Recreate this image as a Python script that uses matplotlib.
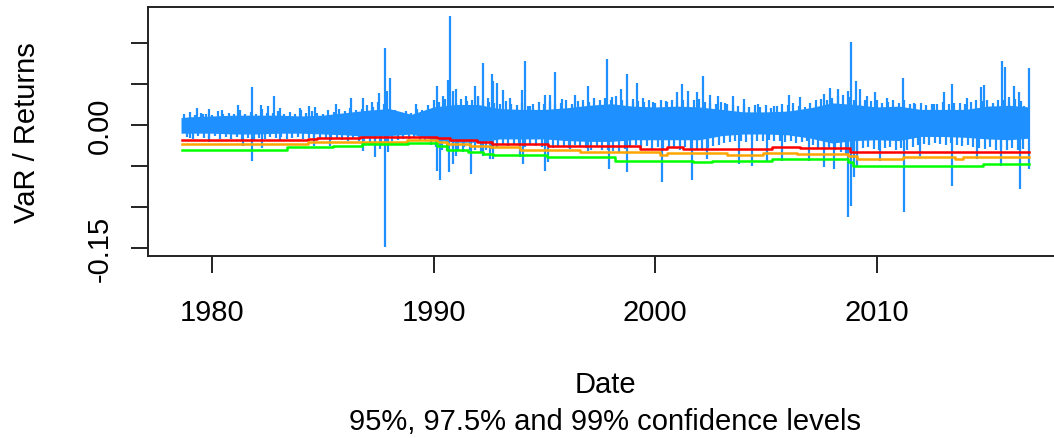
import matplotlib
matplotlib.use('Agg')
import matplotlib.pyplot as plt
import numpy as np

plt.rcParams['font.family'] = ['Liberation Sans', 'DejaVu Sans']

# ---- data ----
# dense core band of daily returns (solid blue area)
core_years = [1978.6, 1979, 1980, 1981, 1982, 1983, 1984, 1985, 1986, 1987,
              1988, 1989, 1990, 1991, 1992, 1993, 1994, 1995, 1996, 1997,
              1998, 1999, 2000, 2001, 2002, 2003, 2004, 2005, 2006, 2007,
              2008, 2009, 2010, 2011, 2012, 2013, 2014, 2015, 2016, 2016.9]
core_hi = [0.009, 0.010, 0.011, 0.012, 0.012, 0.012, 0.011, 0.012, 0.015, 0.018,
           0.020, 0.013, 0.022, 0.025, 0.025, 0.020, 0.019, 0.019, 0.021, 0.024,
           0.026, 0.023, 0.022, 0.023, 0.022, 0.019, 0.016, 0.016, 0.017, 0.021,
           0.027, 0.025, 0.022, 0.023, 0.019, 0.019, 0.019, 0.023, 0.024, 0.022]
core_lo = [-0.010, -0.010, -0.010, -0.011, -0.011, -0.010, -0.010, -0.011, -0.012, -0.014,
           -0.013, -0.011, -0.018, -0.021, -0.021, -0.017, -0.017, -0.017, -0.019, -0.020,
           -0.020, -0.018, -0.018, -0.018, -0.018, -0.013, -0.011, -0.011, -0.012, -0.016,
           -0.022, -0.019, -0.018, -0.019, -0.014, -0.014, -0.015, -0.017, -0.018, -0.016]

# ragged fringe of the band: quarterly highest / lowest returns (from 1978.75)
fringe_start = 1978.75
fringe_hi = [0.013, 0.016, 0.012, 0.015, 0.014, 0.012, 0.017, 0.013,
             0.015, 0.013, 0.018, 0.014, 0.016, 0.014, 0.019, 0.015,
             0.015, 0.017, 0.013, 0.016, 0.014, 0.018, 0.015, 0.017,
             0.015, 0.013, 0.018, 0.016, 0.019, 0.017, 0.021, 0.018,
             0.020, 0.024, 0.022, 0.028, 0.025, 0.020, 0.018, 0.016,
             0.017, 0.015, 0.019, 0.018, 0.024, 0.030, 0.028, 0.032,
             0.030, 0.027, 0.032, 0.029, 0.031, 0.034, 0.030, 0.028,
             0.027, 0.025, 0.029, 0.026, 0.024, 0.027, 0.023, 0.025,
             0.028, 0.025, 0.029, 0.026, 0.027, 0.030, 0.026, 0.029,
             0.031, 0.028, 0.033, 0.030, 0.033, 0.030, 0.035, 0.031,
             0.030, 0.027, 0.029, 0.028, 0.030, 0.027, 0.031, 0.029,
             0.031, 0.028, 0.030, 0.029, 0.030, 0.032, 0.028, 0.027,
             0.026, 0.028, 0.025, 0.024, 0.023, 0.025, 0.022, 0.024,
             0.022, 0.024, 0.021, 0.023, 0.026, 0.024, 0.027, 0.023,
             0.022, 0.027, 0.030, 0.032, 0.030, 0.033, 0.035, 0.036,
             0.034, 0.031, 0.029, 0.030, 0.029, 0.031, 0.027, 0.028,
             0.030, 0.027, 0.031, 0.026, 0.025, 0.027, 0.024, 0.026,
             0.026, 0.028, 0.025, 0.027, 0.027, 0.025, 0.028, 0.030,
             0.029, 0.031, 0.027, 0.030, 0.031, 0.028, 0.032, 0.029]
fringe_lo = [-0.015, -0.017, -0.014, -0.016, -0.016, -0.014, -0.017, -0.015,
             -0.017, -0.015, -0.018, -0.016, -0.018, -0.016, -0.017, -0.015,
             -0.016, -0.015, -0.017, -0.016, -0.015, -0.017, -0.016, -0.018,
             -0.017, -0.016, -0.018, -0.017, -0.018, -0.020, -0.017, -0.019,
             -0.019, -0.021, -0.023, -0.026, -0.024, -0.020, -0.018, -0.017,
             -0.017, -0.016, -0.018, -0.020, -0.024, -0.027, -0.030, -0.032,
             -0.029, -0.031, -0.027, -0.030, -0.030, -0.033, -0.031, -0.029,
             -0.027, -0.025, -0.026, -0.024, -0.025, -0.027, -0.024, -0.026,
             -0.027, -0.025, -0.028, -0.026, -0.026, -0.028, -0.025, -0.027,
             -0.028, -0.030, -0.027, -0.031, -0.030, -0.032, -0.033, -0.029,
             -0.027, -0.025, -0.028, -0.026, -0.029, -0.027, -0.030, -0.028,
             -0.028, -0.030, -0.027, -0.029, -0.029, -0.031, -0.028, -0.026,
             -0.024, -0.022, -0.021, -0.020, -0.019, -0.021, -0.018, -0.020,
             -0.019, -0.018, -0.020, -0.019, -0.021, -0.020, -0.022, -0.021,
             -0.020, -0.025, -0.028, -0.030, -0.029, -0.031, -0.033, -0.035,
             -0.032, -0.030, -0.028, -0.027, -0.029, -0.031, -0.028, -0.027,
             -0.030, -0.028, -0.031, -0.027, -0.025, -0.023, -0.024, -0.022,
             -0.023, -0.024, -0.022, -0.025, -0.026, -0.024, -0.027, -0.028,
             -0.029, -0.027, -0.030, -0.028, -0.030, -0.028, -0.031, -0.029]

# individual large daily returns (spikes)
up_years = [1979.34, 1979.60, 1979.86, 1980.44, 1981.19, 1981.79, 1982.20, 1982.54, 1982.82, 1983.07,
            1983.97, 1984.39, 1984.65, 1985.58, 1986.26, 1986.83, 1987.21, 1987.54, 1987.80, 1988.04,
            1987.89, 1989.21, 1990.15, 1990.42, 1990.65, 1990.75, 1990.87, 1991.02, 1991.47, 1991.88,
            1992.03, 1992.25, 1992.48, 1992.63, 1992.70, 1992.85, 1993.15, 1993.45, 1993.98, 1994.13,
            1994.35, 1995.03, 1995.26, 1995.48, 1995.78, 1996.39, 1996.99, 1997.37,
            1997.85, 1998.04, 1998.45, 1998.75, 1998.99, 1999.17, 1999.47, 1999.93, 2000.53, 2000.98,
            2001.21, 2001.51, 2001.89, 2002.16, 2002.49, 2002.86, 2003.17, 2003.51, 2004.00, 2004.67,
            2005.35, 2006.03, 2006.56, 2007.16, 2007.62, 2007.92, 2008.25, 2008.70, 2008.85, 2009.09,
            2009.24, 2009.57, 2009.95, 2010.48, 2011.20, 2011.68, 2012.59, 2013.04, 2013.42, 2014.09,
            2014.70, 2014.85, 2015.38, 2015.68, 2015.78, 2015.98, 2016.21, 2016.43, 2016.66, 2016.88]
up_vals = [0.0207, 0.0134, 0.0190, 0.0187, 0.0248, 0.0460, 0.0248, 0.0228, 0.0350, 0.0211,
           0.0203, 0.0230, 0.0220, 0.0256, 0.0325, 0.0330, 0.0276, 0.0390, 0.0935, 0.0573,
           0.0415, 0.0256, 0.0480, 0.0350, 0.0553, 0.1325, 0.0415, 0.0440, 0.0358, 0.0480,
           0.0358, 0.0756, 0.0325, 0.0622, 0.0540, 0.0516, 0.0423, 0.0325, 0.0427, 0.0777,
           0.0228, 0.0366, 0.0366, 0.0642, 0.0317, 0.0366, 0.0480, 0.0232,
           0.0805, 0.0337, 0.0439, 0.0622, 0.0317, 0.0516, 0.0325, 0.0276, 0.0276, 0.0398,
           0.0500, 0.0419, 0.0407, 0.0602, 0.0366, 0.0350, 0.0268, 0.0350, 0.0317, 0.0256,
           0.0236, 0.0366, 0.0337, 0.0195, 0.0378, 0.0447, 0.0439, 0.0419, 0.1008, 0.0540,
           0.0439, 0.0350, 0.0398, 0.0325, 0.0573, 0.0268, 0.0256, 0.0407, 0.0500, 0.0325,
           0.0459, 0.0488, 0.0195, 0.0777, 0.0703, 0.0337, 0.0472, 0.0407, 0.0236, 0.0691]

down_years = [1979.00, 1979.88, 1981.38, 1981.79, 1982.24, 1983.07, 1984.60, 1985.33, 1986.80, 1987.36,
              1987.59, 1987.80, 1987.93, 1990.15, 1990.27, 1990.68, 1990.90, 1991.02, 1991.35, 1991.70,
              1992.25, 1992.55, 1992.70, 1993.90, 1994.05, 1995.03, 1995.18, 1996.16, 1996.99,
              1997.90, 1998.75, 2000.30, 2001.66, 2002.34, 2003.77, 2004.37, 2005.05, 2005.73, 2006.93,
              2007.64, 2008.06, 2008.73, 2008.85, 2008.97, 2009.12, 2010.17, 2011.23, 2011.98, 2013.42,
              2014.55, 2015.60, 2016.47, 2016.88]
down_vals = [-0.0163, -0.0211, -0.0252, -0.0443, -0.0285, -0.0195, -0.0252, -0.0260, -0.0313, -0.0394,
             -0.0290, -0.1492, -0.0334, -0.0557, -0.0667, -0.0577, -0.0475, -0.0374, -0.0334, -0.0598,
             -0.0374, -0.0415, -0.0415, -0.0394, -0.0475, -0.0557, -0.0455, -0.0290, -0.0313,
             -0.0537, -0.0577, -0.0699, -0.0667, -0.0415, -0.0475, -0.0496, -0.0435, -0.0435, -0.0435,
             -0.0516, -0.0537, -0.1126, -0.0984, -0.0639, -0.0516, -0.0435, -0.1057, -0.0374, -0.0740,
             -0.0415, -0.0496, -0.0780, -0.0537]

# VaR step series
var95_years = [1978.63, 1984.35, 1984.73, 1986.68, 1990.14, 1990.74, 1991.95, 1992.63, 1995.18,
               1999.32, 2000.53, 2001.28, 2005.27, 2006.55, 2008.80, 2016.88]
var95_vals = [-0.0183, -0.0170, -0.0155, -0.0142, -0.0163, -0.0183, -0.0211, -0.0232, -0.0255,
              -0.0290, -0.0272, -0.0290, -0.0272, -0.0285, -0.0325, -0.0325]

var975_years = [1978.63, 1984.35, 1986.68, 1988.79, 1990.14, 1990.59, 1991.65, 1992.55, 1993.90,
                1996.61, 2000.22, 2000.53, 2003.24, 2004.89, 2006.40, 2008.73, 2009.10, 2011.21,
                2013.54, 2013.92, 2016.88]
var975_vals = [-0.0232, -0.0211, -0.0203, -0.0179, -0.0211, -0.0232, -0.0260, -0.0272, -0.0300,
               -0.0325, -0.0366, -0.0345, -0.0366, -0.0337, -0.0354, -0.0374, -0.0415, -0.0386,
               -0.0415, -0.0386, -0.0386]

var99_years = [1978.63, 1983.37, 1985.48, 1986.76, 1988.86, 1990.14, 1990.59, 1991.57, 1992.25,
               1992.70, 1995.11, 1998.19, 2001.73, 2002.56, 2005.27, 2008.73, 2008.95, 2014.82, 2016.88]
var99_vals = [-0.0300, -0.0272, -0.0252, -0.0232, -0.0224, -0.0252, -0.0300, -0.0334, -0.0354,
              -0.0366, -0.0394, -0.0435, -0.0455, -0.0435, -0.0415, -0.0455, -0.0504, -0.0476, -0.0476]

x_ticks = [1980, 1990, 2000, 2010]
y_ticks = [-0.15, -0.10, -0.05, 0.00, 0.05, 0.10]
y_ticklabels = ['-0.15', '', '', '0.00', '', '']

# ---- drawing ----
W, H = 1054, 439
fig = plt.figure(figsize=(W / 100, H / 100), dpi=100)
ax = fig.add_axes([148 / W, 1 - 257.3 / H, (1062.6 - 148) / W, (257.3 - 8.3) / H])

blue = '#1E90FF'
fringe_years = fringe_start + 0.25 * np.arange(len(fringe_hi))
ax.fill_between(core_years, core_lo, core_hi, color=blue, lw=0)
ax.vlines(fringe_years, 0, fringe_hi, color=blue, lw=1.6)
ax.vlines(fringe_years + 0.125, fringe_lo, 0, color=blue, lw=1.6)
ax.vlines(up_years, 0, up_vals, color=blue, lw=1.6)
ax.vlines(down_years, 0, down_vals, color=blue, lw=1.6)

ax.step(var95_years, var95_vals, where='post', color='#FF0000', lw=1.8)
ax.step(var975_years, var975_vals, where='post', color='#FFA500', lw=1.8)
ax.step(var99_years, var99_vals, where='post', color='#00FF00', lw=1.8)

ax.set_xlim(1977.11, 2018.40)
ax.set_ylim(-0.1601, 0.1435)

ax.set_xticks(x_ticks)
ax.set_xticklabels([str(t) for t in x_ticks])
ax.set_yticks(y_ticks)
ax.set_yticklabels(y_ticklabels, rotation=90)

for s in ax.spines.values():
    s.set_linewidth(1.4)
    s.set_color('#222222')

ax.tick_params(axis='both', direction='out', length=12, width=1.4, color='#222222',
               labelsize=21)
ax.tick_params(axis='x', pad=33.6)
ax.tick_params(axis='y', pad=23)
for lab in ax.get_xticklabels():
    lab.set_va('baseline')
for lab in ax.get_yticklabels():
    lab.set_ha('center')
    lab.set_va('center')

fig.text(27 / W, 1 - 132.8 / H, 'VaR / Returns', rotation=90, ha='center', va='center',
         fontsize=21)
fig.text(605 / W, 1 - 393.3 / H, 'Date', ha='center', va='baseline', fontsize=21)
fig.text(605 / W, 1 - 430 / H, '95%, 97.5% and 99% confidence levels', ha='center',
         va='baseline', fontsize=21)

fig.savefig('out.png', dpi=100)
